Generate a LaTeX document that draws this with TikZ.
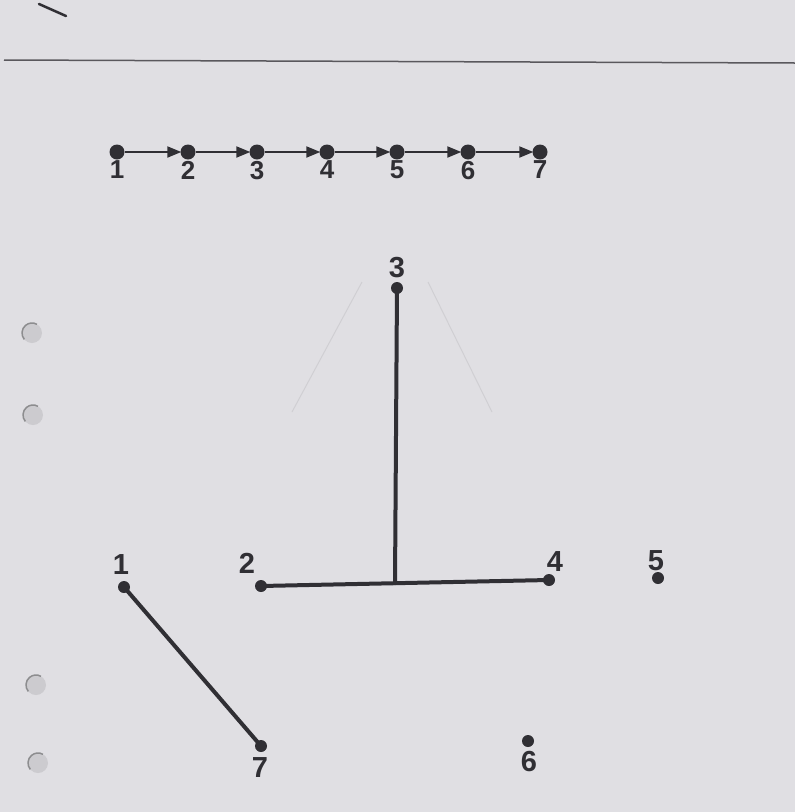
\documentclass[tikz,border=0pt]{standalone}
\usepackage{fontspec}
\setmainfont{Liberation Sans}
\usetikzlibrary{arrows.meta,positioning}
\definecolor{paper}{RGB}{224,223,227}
\definecolor{ink}{RGB}{48,47,52}
\definecolor{ghost}{RGB}{208,207,211}
\definecolor{hole}{RGB}{204,203,207}
\tikzset{
  dot/.style={circle,fill=ink,inner sep=0pt,minimum size=#1},
  dot/.default=12pt,
  num/.style={font=\fontsize{29}{30}\selectfont\bfseries,text=ink,inner sep=0pt},
  chainnum/.style={font=\fontsize{26}{28}\selectfont\bfseries,text=ink,inner sep=0pt},
  chainarrow/.style={draw=ink,line width=2pt,-{Triangle[length=14pt,width=11pt]},shorten >=-1pt},
  link/.style={draw=ink,line width=4pt,line cap=round},
}

\begin{document}
\begin{tikzpicture}[x=1pt,y=-1pt]
\fill[paper] (0,0) rectangle (795,812);
\useasboundingbox (0,0) rectangle (795,812);

% sheet: tick, rule, punched holes
\draw[ink,line width=2.5pt,line cap=round] (39,4) -- (66,16);
\draw[ink!80,line width=1.5pt] (4,60) -- (795,63);
\foreach \x/\y in {32/333,33/415,36/685,38/763}
  {\fill[hole] (\x,\y) circle (10);
   \draw[ink!55,line width=1.5pt] ([shift={(140:10)}]\x,\y) arc (140:300:10);}

% row 1 .. 7
\foreach \n/\x in {1/117,2/188,3/257,4/327,5/397,6/468,7/540}
  \node[dot=15pt,label={[chainnum,label distance=1pt]below:\n}] (c\n) at (\x,152) {};
\foreach \a/\b in {1/2,2/3,3/4,4/5,5/6,6/7}
  \draw[chainarrow] (c\a) -- (c\b);

% faint lines near 3
\draw[ghost,line width=1pt] (362,282) -- (292,412);
\draw[ghost,line width=1pt] (428,282) -- (492,412);

% the puzzle
\node[dot] (p1) at (124,587) {};
\node[dot] (p2) at (261,586) {};
\node[dot] (p3) at (397,288) {};
\node[dot] (p4) at (549,580) {};
\node[dot] (p5) at (658,578) {};
\node[dot] (p6) at (528,741) {};
\node[dot] (p7) at (261,746) {};
\node[num] (l1) at (121,565) {1};
\node[num] (l2) at (247,563) {2};
\node[num] (l3) at (397,268) {3};
\node[num] (l4) at (555,562) {4};
\node[num] (l5) at (656,561) {5};
\node[num] (l6) at (529,762) {6};
\node[num] (l7) at (260,768) {7};
\coordinate (foot) at (395,583.2);

\draw[link] (p2.center) -- (p4.center);
\draw[link] (p3.center) -- (foot);
\draw[link] (p1.center) -- (p7.center);
\end{tikzpicture}
\end{document}
